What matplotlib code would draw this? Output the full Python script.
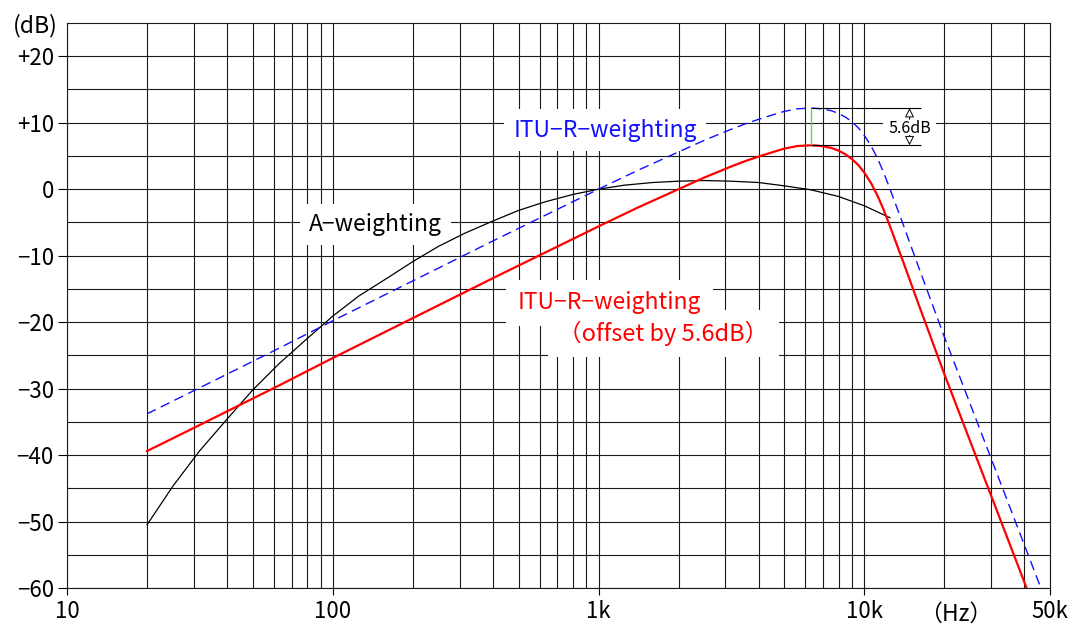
import matplotlib
matplotlib.use('Agg')
import matplotlib.pyplot as plt
from matplotlib.ticker import FixedLocator, NullFormatter

plt.rcParams['font.family'] = ['Noto Sans CJK JP', 'DejaVu Sans']

# A-weighting, 1/3 octave points (dB)
a_freq = [20, 25, 31.5, 40, 50, 63, 80, 100, 125, 160, 200, 250, 315, 400, 500,
          630, 800, 1000, 1250, 1600, 2000, 2500, 3150, 4000, 5000, 6300, 8000,
          10000, 12500]
a_db = [-50.5, -44.7, -39.4, -34.6, -30.2, -26.2, -22.5, -19.1, -16.1, -13.4,
        -10.9, -8.6, -6.6, -4.8, -3.2, -1.9, -0.8, 0.0, 0.6, 1.0, 1.2, 1.3, 1.2,
        1.0, 0.5, -0.1, -1.1, -2.5, -4.3]

# ITU-R 468 weighting (dB)
itu_freq = [20, 31.5, 63, 100, 200, 400, 800, 1000, 1400, 2000,
            2500, 3150, 3550, 4000, 4500, 5000, 5600, 6300, 6700, 7100,
            7500, 8000, 8500, 9000, 9500, 10000, 10600, 11200, 11800, 12500,
            14000, 16000, 20000, 31500, 40000, 47000]
itu_db = [-33.8, -29.9, -23.9, -19.8, -13.8, -7.8, -1.9, 0.0, 2.8, 5.6,
          7.35, 9.0, 9.8, 10.5, 11.15, 11.7, 12.09, 12.2, 12.14, 12.0,
          11.81, 11.4, 10.83, 10.1, 9.22, 8.1, 6.52, 4.67, 2.59, 0.0,
          -5.3, -11.7, -22.2, -42.7, -53.5, -60.8]
# same curve, offset by 5.6 dB
itu_off_db = [-39.4, -35.5, -29.5, -25.4, -19.4, -13.4, -7.5, -5.6, -2.8, 0.0,
              1.75, 3.4, 4.2, 4.9, 5.55, 6.1, 6.49, 6.6, 6.54, 6.4,
              6.21, 5.8, 5.23, 4.5, 3.62, 2.5, 0.92, -0.93, -3.01, -5.6,
              -10.9, -17.3, -27.8, -48.3, -59.1, -66.4]

yticks = [20, 10, 0, -10, -20, -30, -40, -50, -60]
ylabels = ['+20', '+10', '0', '−10', '−20', '−30', '−40', '−50', '−60']
xticks = [10, 100, 1000, 10000, 50000]
xlabels = ['10', '100', '1k', '10k', '50k']

fig = plt.figure(figsize=(10.74, 6.28), dpi=100)
ax = fig.add_axes([0.0624, 0.0637, 0.9153, 0.8997])

ax.set_xscale('log')
ax.set_xlim(10, 50000)
ax.set_ylim(-60, 25)

minor_x = [m * d for d in (10, 100, 1000) for m in range(2, 10)] + [20000, 30000, 40000]
ax.xaxis.set_major_locator(FixedLocator(xticks))
ax.xaxis.set_minor_locator(FixedLocator(minor_x))
ax.xaxis.set_minor_formatter(NullFormatter())
ax.set_xticklabels(xlabels)
ax.set_yticks(yticks)
ax.set_yticklabels(ylabels)
ax.yaxis.set_minor_locator(FixedLocator(list(range(-55, 25, 10))))

ax.set_axisbelow(True)
ax.grid(which='both', color='#1a1a1a', linewidth=0.8)
ax.tick_params(which='minor', length=0)
ax.tick_params(axis='y', which='major', direction='out', length=6.5, width=0.8,
               labelsize=16, pad=3)
ax.tick_params(axis='x', which='major', direction='out', length=5, width=0.8,
               labelsize=16, pad=4)
for s in ax.spines.values():
    s.set_linewidth(0.8)
    s.set_color('#1a1a1a')

ax.plot(a_freq, a_db, color='black', lw=0.9, zorder=4)
ax.plot(itu_freq, itu_db, color='#1010ff', lw=1.0, dashes=(7, 4), zorder=4)
ax.plot(itu_freq, itu_off_db, color='#ff0000', lw=1.6, zorder=4)

# peak difference marker
ipk = itu_db.index(max(itu_db))
f_pk = itu_freq[ipk]
ax.hlines([itu_db[ipk], itu_off_db[ipk]], f_pk, 16300, color='black', lw=0.8, zorder=4)
ax.vlines(f_pk, itu_off_db[ipk], itu_db[ipk], color='#55dd55', lw=1.0, zorder=5)
arrow = dict(arrowstyle='-|>', fc='white', ec='black', lw=0.7,
             mutation_scale=14, shrinkA=0, shrinkB=0)
ax.annotate('', xy=(14800, itu_db[ipk]), xytext=(14800, 10.5), arrowprops=arrow, zorder=5)
ax.annotate('', xy=(14800, itu_off_db[ipk]), xytext=(14800, 8.1), arrowprops=arrow, zorder=5)
ax.text(14800, 9.2, '5.6dB', fontsize=11.5, ha='center', va='center', zorder=3,
        bbox=dict(boxstyle='square,pad=0.3', fc='white', ec='none'))

box = dict(boxstyle='square,pad=0.4', fc='white', ec='none')
ax.text(145, -5.3, 'A−weighting', fontsize=16.5, color='black', ha='center',
        va='center', zorder=3, bbox=box)
ax.text(1060, 8.9, 'ITU−R−weighting', fontsize=16.5, color='#1010ff', ha='center',
        va='center', zorder=3, bbox=box)

# red label: two white patches first, then the two lines of text on top
red_lines = [(1100, -17.1, 'ITU−R−weighting', 16.5, 0.5),
             (1754, -21.7, '（offset by 5.6dB）', 17, 0.45)]
for x, y, s, fs, pad in red_lines:
    ax.text(x, y, s, fontsize=fs, color='none', ha='center', va='center', zorder=3,
            bbox=dict(boxstyle='square,pad=%s' % pad, fc='white', ec='none'))
for x, y, s, fs, pad in red_lines:
    ax.text(x, y, s, fontsize=fs, color='#ff0000', ha='center', va='center', zorder=3.5)

fig.text(0.0535, 0.960, '(dB)', fontsize=16.5, ha='right', va='center')
fig.text(0.890, 0.0225, '（Hz）', fontsize=16.5, ha='center', va='center')

fig.savefig('out.png', dpi=100)
